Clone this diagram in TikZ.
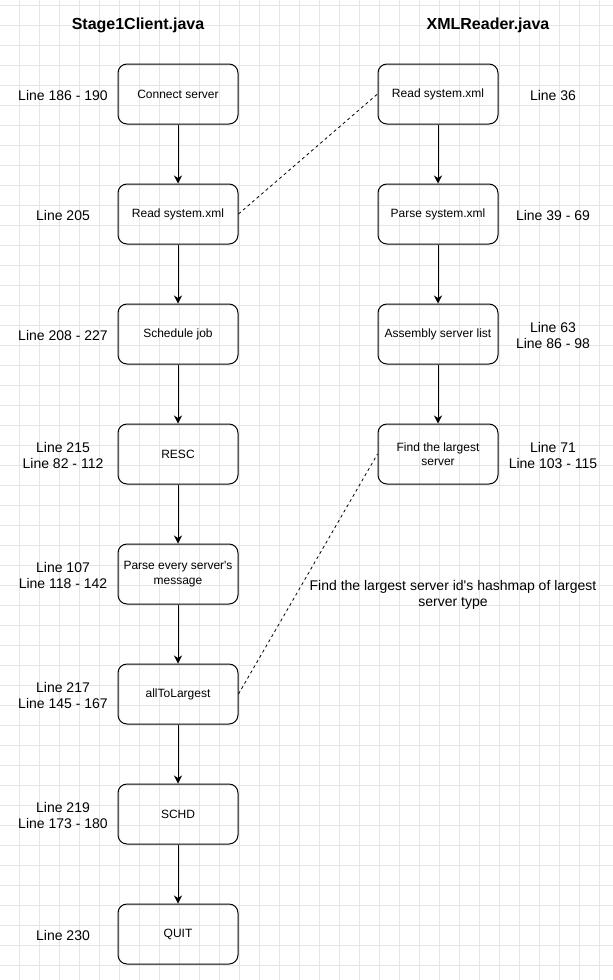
\documentclass[tikz,border=0pt]{standalone}
\usepackage{fontspec}
\setmainfont{Liberation Sans}
\usetikzlibrary{arrows.meta}
\tikzset{
    stepbox/.style={draw, line width=1pt, rounded corners=9pt, minimum width=120pt, minimum height=60pt, inner sep=0pt, align=center, font=\fontsize{12}{14.5}\selectfont},
    linenote/.style={align=center, inner sep=0pt, font=\fontsize{14}{16}\selectfont},
    filetitle/.style={inner sep=0pt, font=\fontsize{16}{18}\selectfont\bfseries},
    flow/.style={line width=1pt, -{Stealth[length=8pt,width=8pt,inset=2.5pt]}},
    link/.style={line width=0.8pt, dash pattern=on 3pt off 3pt},
    gridline/.style={draw=black!10, line width=0.8pt}
}
\begin{document}
\begin{tikzpicture}[x=1pt, y=-1pt]
    \useasboundingbox (0,0) rectangle (613,980);
    \fill[white] (0,0) rectangle (613,980);
    % background grid
    \foreach \gx in {19,39,...,613} \draw[gridline] (\gx,0) -- (\gx,980);
    \foreach \gy in {5,25,...,980} \draw[gridline] (0,\gy) -- (613,\gy);

    \node[filetitle] (T1) at (138,25) {Stage1Client.java};
    \node[filetitle] (T2) at (488,25) {XMLReader.java};

    % Stage1Client.java
    \node[stepbox] (C1) at (178,94) {Connect server};
    \node[stepbox] (C2) at (178,214) {Read system.xml};
    \node[stepbox] (C3) at (178,334) {Schedule job};
    \node[stepbox] (C4) at (178,454) {RESC};
    \node[stepbox] (C5) at (178,574) {Parse every server\textquotesingle s\\message};
    \node[stepbox] (C6) at (178,694) {allToLargest};
    \node[stepbox] (C7) at (178,814) {SCHD};
    \node[stepbox] (C8) at (178,934) {QUIT};

    \node[linenote] (L1) at (63,95) {Line 186 - 190};
    \node[linenote] (L2) at (63,215) {Line 205};
    \node[linenote] (L3) at (63,335) {Line 208 - 227};
    \node[linenote] (L4) at (63,455) {Line 215\\Line 82 - 112};
    \node[linenote] (L5) at (63,575) {Line 107\\Line 118 - 142};
    \node[linenote] (L6) at (63,695) {Line 217\\Line 145 - 167};
    \node[linenote] (L7) at (63,815) {Line 219\\Line 173 - 180};
    \node[linenote] (L8) at (63,935) {Line 230};

    % XMLReader.java
    \node[stepbox] (R1) at (438,94) {Read system.xml};
    \node[stepbox] (R2) at (438,214) {Parse system.xml};
    \node[stepbox] (R3) at (438,334) {Assembly server list};
    \node[stepbox] (R4) at (438,454) {Find the largest\\server};

    \node[linenote] (N1) at (553,95) {Line 36};
    \node[linenote] (N2) at (553,215) {Line 39 - 69};
    \node[linenote] (N3) at (553,335) {Line 63\\Line 86 - 98};
    \node[linenote] (N4) at (553,455) {Line 71\\Line 103 - 115};

    \node[linenote] (Note) at (453,595) {Find the largest server id\textquotesingle s hashmap of largest\\server type};

    \foreach \a/\b in {C1/C2, C2/C3, C3/C4, C4/C5, C5/C6, C6/C7, C7/C8, R1/R2, R2/R3, R3/R4}
        \draw[flow] (\a) -- (\b);

    \draw[link] (C2.east) -- (R1.west);
    \draw[link] (C6.east) -- (R4.west);
\end{tikzpicture}
\end{document}
